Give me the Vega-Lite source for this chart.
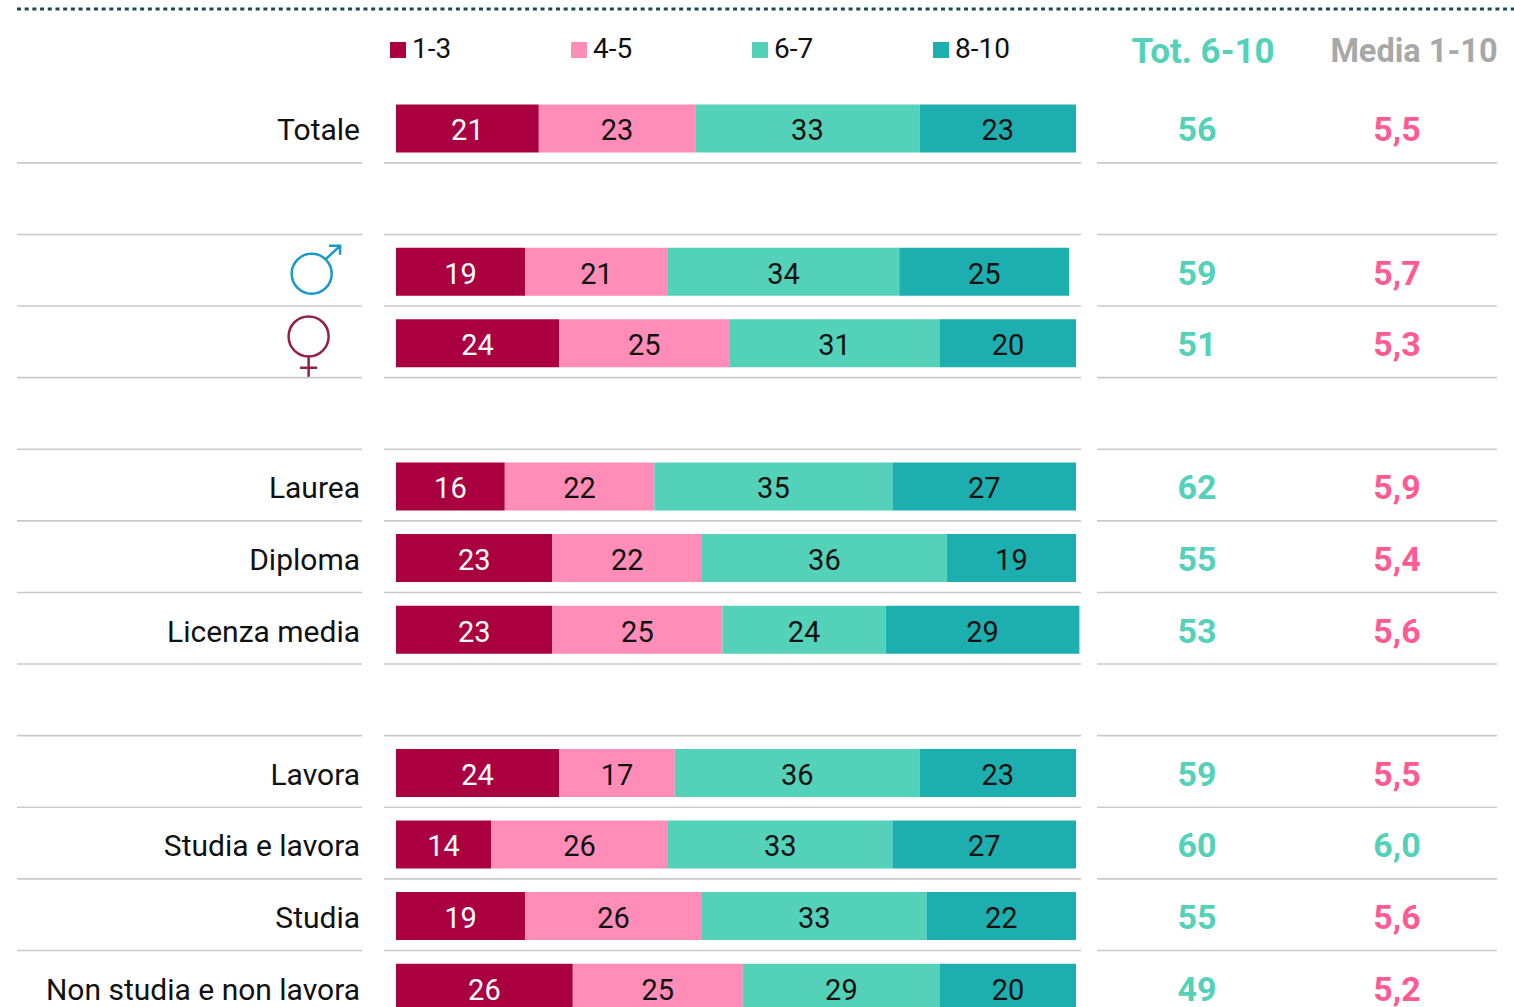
{
"$schema":"https://vega.github.io/schema/vega-lite/v6.json",
"width":1514,"height":1007,"padding":0,"autosize":{"type":"none"},
"background":"white",
"config":{"view":{"stroke":null},"text":{"font":"Roboto"},"legend":{"labelFont":"Roboto"}},
"datasets":{
"segments":[
{"row":0,"band":"1-3","o":1,"value":21},{"row":0,"band":"4-5","o":2,"value":23},{"row":0,"band":"6-7","o":3,"value":33},{"row":0,"band":"8-10","o":4,"value":23},
{"row":2,"band":"1-3","o":1,"value":19},{"row":2,"band":"4-5","o":2,"value":21},{"row":2,"band":"6-7","o":3,"value":34},{"row":2,"band":"8-10","o":4,"value":25},
{"row":3,"band":"1-3","o":1,"value":24},{"row":3,"band":"4-5","o":2,"value":25},{"row":3,"band":"6-7","o":3,"value":31},{"row":3,"band":"8-10","o":4,"value":20},
{"row":5,"band":"1-3","o":1,"value":16},{"row":5,"band":"4-5","o":2,"value":22},{"row":5,"band":"6-7","o":3,"value":35},{"row":5,"band":"8-10","o":4,"value":27},
{"row":6,"band":"1-3","o":1,"value":23},{"row":6,"band":"4-5","o":2,"value":22},{"row":6,"band":"6-7","o":3,"value":36},{"row":6,"band":"8-10","o":4,"value":19},
{"row":7,"band":"1-3","o":1,"value":23},{"row":7,"band":"4-5","o":2,"value":25},{"row":7,"band":"6-7","o":3,"value":24},{"row":7,"band":"8-10","o":4,"value":28.5},
{"row":9,"band":"1-3","o":1,"value":24},{"row":9,"band":"4-5","o":2,"value":17},{"row":9,"band":"6-7","o":3,"value":36},{"row":9,"band":"8-10","o":4,"value":23},
{"row":10,"band":"1-3","o":1,"value":14},{"row":10,"band":"4-5","o":2,"value":26},{"row":10,"band":"6-7","o":3,"value":33},{"row":10,"band":"8-10","o":4,"value":27},
{"row":11,"band":"1-3","o":1,"value":19},{"row":11,"band":"4-5","o":2,"value":26},{"row":11,"band":"6-7","o":3,"value":33},{"row":11,"band":"8-10","o":4,"value":22},
{"row":12,"band":"1-3","o":1,"value":26},{"row":12,"band":"4-5","o":2,"value":25},{"row":12,"band":"6-7","o":3,"value":29},{"row":12,"band":"8-10","o":4,"value":20}
],
"rows":[
{"row":0,"label":"Totale","tot":56,"media":"5,5"},
{"row":2,"icon":"male","tot":59,"media":"5,7"},
{"row":3,"icon":"female","tot":51,"media":"5,3"},
{"row":5,"label":"Laurea","tot":62,"media":"5,9"},
{"row":6,"label":"Diploma","tot":55,"media":"5,4"},
{"row":7,"label":"Licenza media","tot":53,"media":"5,6"},
{"row":9,"label":"Lavora","tot":59,"media":"5,5"},
{"row":10,"label":"Studia e lavora","tot":60,"media":"6,0"},
{"row":11,"label":"Studia","tot":55,"media":"5,6"},
{"row":12,"label":"Non studia e non lavora","tot":49,"media":"5,2"}
],
"lines":[{"at":0.48},{"at":1.48},{"at":2.48},{"at":3.48},{"at":4.48},{"at":5.48},{"at":6.48},{"at":7.48},{"at":8.48},{"at":9.48},{"at":10.48},{"at":11.48}]
},
"encoding":{
"y":{"field":"row","type":"quantitative","axis":null,"scale":{"domain":[-1.7947,12.27],"reverse":true,"nice":false,"zero":false,"padding":0}}
},
"layer":[
{"data":{"name":"lines"},"mark":{"type":"rule","color":"#C9C9C9","strokeWidth":1.6},
 "encoding":{"y":{"field":"at","type":"quantitative"},"x":{"datum":-55.74,"type":"quantitative","axis":null,"scale":{"domain":[-58.235,164.41],"nice":false,"zero":false,"padding":0}},"x2":{"datum":-5}}},
{"data":{"name":"lines"},"mark":{"type":"rule","color":"#C9C9C9","strokeWidth":1.6},
 "encoding":{"y":{"field":"at","type":"quantitative"},"x":{"datum":-1.76,"type":"quantitative"},"x2":{"datum":100.74}}},
{"data":{"name":"lines"},"mark":{"type":"rule","color":"#C9C9C9","strokeWidth":1.6},
 "encoding":{"y":{"field":"at","type":"quantitative"},"x":{"datum":103.09,"type":"quantitative"},"x2":{"datum":161.9}}},
{"data":{"values":[{"top":-1.669}]},"mark":{"type":"rule","color":"#17485A","strokeWidth":3,"strokeDash":[4,3.7]},
 "encoding":{"y":{"field":"top","type":"quantitative"},"x":{"datum":-55.74,"type":"quantitative"},"x2":{"datum":164.41}}},
{"data":{"name":"segments"},"mark":{"type":"bar","orient":"horizontal","size":48,"clip":true},
 "encoding":{
  "x":{"field":"value","type":"quantitative","stack":"zero"},
  "order":{"field":"o","type":"ordinal"},
  "color":{"field":"band","type":"nominal","scale":{"domain":["1-3","4-5","6-7","8-10"],"range":["#AA0040","#FF8DB8","#53D1B9","#1DAFAF"]},
   "legend":{"title":null,"orient":"none","legendX":384,"legendY":36,"direction":"horizontal","columns":4,"symbolType":"square","symbolSize":256,"symbolStrokeWidth":0,"symbolOpacity":1,"labelFont":"Roboto","labelFontSize":28,"labelColor":"#111111","labelOffset":0,"columnPadding":113,"gridAlign":"each"}}
 }},
{"data":{"name":"segments"},"mark":{"type":"text","orient":"horizontal","font":"Roboto","fontSize":29,"baseline":"middle","dy":3},
 "encoding":{
  "x":{"field":"value","type":"quantitative","stack":"zero","bandPosition":0.5},
  "order":{"field":"o","type":"ordinal"},
  "text":{"field":"value","type":"quantitative","format":".0f"},
  "color":{"condition":{"test":"datum.band==='1-3'","value":"#FFFFFF"},"value":"#111111"}
 }},
{"data":{"name":"rows"},"transform":[{"filter":"isValid(datum.label)"}],"mark":{"type":"text","font":"Roboto","fontSize":30,"align":"right","baseline":"middle","dy":3,"color":"#111111"},
 "encoding":{"x":{"datum":-5.29,"type":"quantitative"},"text":{"field":"label","type":"nominal"}}},
{"data":{"name":"rows"},"mark":{"type":"text","font":"Roboto","fontWeight":"bold","fontSize":34,"baseline":"middle","dy":3,"color":"#53D1B9"},
 "encoding":{"x":{"datum":117.79,"type":"quantitative"},"text":{"field":"tot","type":"quantitative"}}},
{"data":{"name":"rows"},"mark":{"type":"text","font":"Roboto","fontWeight":"bold","fontSize":34,"baseline":"middle","dy":3},
 "encoding":{"x":{"datum":147.2,"type":"quantitative"},"text":{"field":"media","type":"nominal"},
  "color":{"condition":{"test":"datum.media==='6,0'","value":"#53D1B9"},"value":"#FF5A93"}}},
{"data":{"values":[{"h":"Tot. 6-10","at":118.68,"row":-1.068}]},"mark":{"type":"text","font":"Roboto","fontWeight":"bold","fontSize":35,"baseline":"middle","color":"#53D1B9"},
 "encoding":{"x":{"field":"at","type":"quantitative"},"text":{"field":"h","type":"nominal"}}},
{"data":{"values":[{"h":"Media 1-10","at":149.7,"row":-1.068}]},"mark":{"type":"text","font":"Roboto","fontWeight":"bold","fontSize":32.5,"baseline":"middle","color":"#A8A8A8"},
 "encoding":{"x":{"field":"at","type":"quantitative"},"text":{"field":"h","type":"nominal"}}},
{"data":{"name":"rows"},"transform":[{"filter":"datum.icon==='male'"}],
 "mark":{"type":"point","filled":false,"opacity":1,"size":2500,"strokeWidth":2.5,"color":"#1899C9","shape":"M -0.936 0.084 A 0.8 0.8 0 1 1 0.664 0.084 A 0.8 0.8 0 1 1 -0.936 0.084 Z M 0.44 -0.516 L 1 -1.036 M 0.56 -1.036 L 1 -1.036 L 1 -0.676"},
 "encoding":{"x":{"datum":-11.9,"type":"quantitative"}}},
{"data":{"name":"rows"},"transform":[{"filter":"datum.icon==='female'"}],
 "mark":{"type":"point","filled":false,"opacity":1,"size":2500,"strokeWidth":2.5,"color":"#962045","shape":"M -0.8 -0.276 A 0.8 0.8 0 1 1 0.8 -0.276 A 0.8 0.8 0 1 1 -0.8 -0.276 Z M 0 0.524 L 0 1.336 M -0.34 0.976 L 0.34 0.976"},
 "encoding":{"x":{"datum":-12.85,"type":"quantitative"}}}
]
}
